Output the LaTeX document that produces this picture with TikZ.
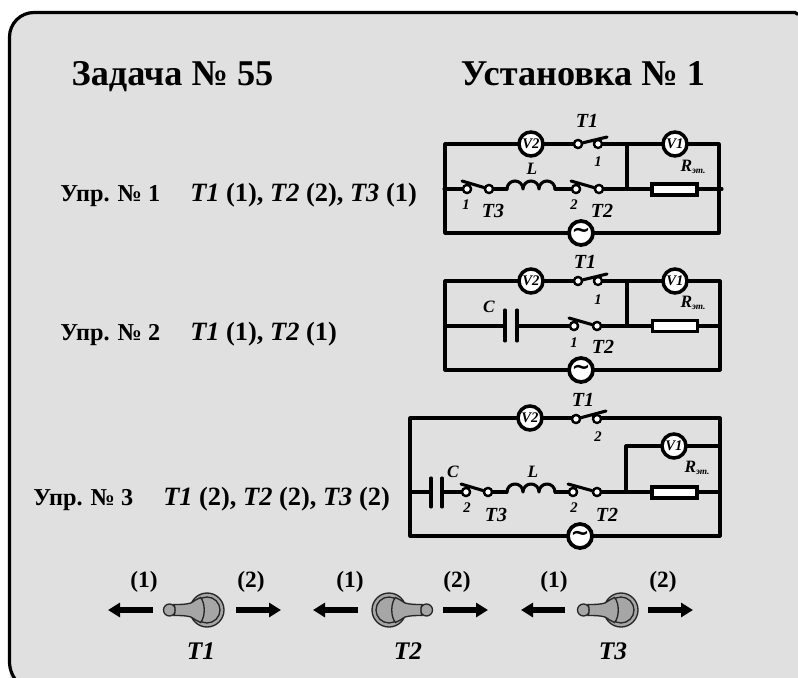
\documentclass[tikz,border=0pt]{standalone}
\usepackage{fontspec}
\setmainfont{Liberation Serif}
\newfontfamily\tildefont{DejaVu Sans}
\usetikzlibrary{arrows.meta}
\definecolor{panel}{HTML}{E0E0E0}
\definecolor{knob}{HTML}{A6A6A6}
\tikzset{
  x=0.75pt,y=-0.75pt,
  wire/.style={line width=2.3pt,line cap=round,line join=round},
  meter/.style={circle,draw,line width=2.6pt,fill=white,minimum size=18pt,inner sep=0pt,font=\bfseries\itshape\fontsize{11}{11}\selectfont},
  gen/.style={circle,draw,line width=2.8pt,fill=white,minimum size=18pt,inner sep=0pt,font=\tildefont\bfseries\fontsize{17}{17}\selectfont},
  sw/.style={circle,draw,line width=1.7pt,fill=white,minimum size=6pt,inner sep=0pt},
  res/.style={draw,line width=2.6pt,fill=white,minimum width=34pt,minimum height=8.5pt,inner sep=0pt},
  title/.style={font=\bfseries\fontsize{27.2}{30}\selectfont,anchor=base},
  exer/.style={font=\bfseries\fontsize{18.2}{20}\selectfont,anchor=base west,inner sep=0pt},
  exerb/.style={font=\bfseries\fontsize{19.8}{20}\selectfont,anchor=base west,inner sep=0pt},
  lab/.style={font=\bfseries\itshape\fontsize{15}{15}\selectfont},
  sm/.style={font=\bfseries\itshape\fontsize{11}{11}\selectfont},
  el/.style={font=\bfseries\itshape\fontsize{13}{13}\selectfont},
  big/.style={font=\bfseries\fontsize{17.5}{18}\selectfont},
  tname/.style={font=\bfseries\itshape\fontsize{19}{19}\selectfont},
  bigarrow/.style={line width=5pt,-{Triangle[length=9pt,width=10.5pt]}},
}
\newcommand{\rlab}{R\raisebox{-1.5pt}{\fontsize{7}{7}\selectfont эт.}}
\newcommand{\coilat}[2]{%
  \draw[wire] (#1,#2) arc[start angle=180,end angle=360,radius=8]
  arc[start angle=180,end angle=360,radius=8]
  arc[start angle=180,end angle=360,radius=8];}
\newcommand{\toggle}[3]{%
  \begin{scope}[shift={(#1,#2)},xscale=#3,line width=1pt]
    \filldraw[fill=knob,draw=black!85] (0,0) circle[radius=17];
    \filldraw[fill=knob,draw=black!85] (0,0) circle[radius=13];
    \filldraw[fill=knob,draw=black!85] (-37.5,0) circle[radius=6];
    \filldraw[fill=knob,draw=black!85] (-33,-5.5) .. controls (-27,-5.5) and (-21,-5.5) .. (-16,-7)
      .. controls (-13,-9) and (-10,-11) .. (-6.5,-12.5)
      .. controls (-1.5,-7) and (-1.5,7) .. (-6.5,12.5)
      .. controls (-10,11) and (-13,9) .. (-16,7)
      .. controls (-21,5.5) and (-27,5.5) .. (-33,5.5)
      .. controls (-31.5,2) and (-31.5,-2) .. (-33,-5.5) -- cycle;
  \end{scope}}
\begin{document}
\begin{tikzpicture}
\useasboundingbox (0,0) rectangle (798,677);
\fill[white] (0,0) rectangle (798,677);
\begin{scope}
\clip (0,0) rectangle (798,677);
\fill[panel] (9.5,690) -- (9.5,37) arc[start angle=180,end angle=270,radius=24.5] -- (830,12.5) -- (830,690) -- cycle;
\draw[line width=2.4pt] (40,692) arc[start angle=90,end angle=180,radius=30.5] -- (9.5,37) arc[start angle=180,end angle=270,radius=24.5] -- (795,12.5) -- (798,14.5);
\end{scope}
% titles
\node[title] (t1) at (172.5,86) {Задача № 55};
\node[title] (t2) at (583,86) {Установка № 1};
% exercises
\node[exer] (e1) at (60,201) {Упр. № 1};
\node[exerb] (e1b) at (190,201) {\textit{T1} (1), \textit{T2} (2), \textit{T3} (1)};
\node[exer] (e2) at (60,340) {Упр. № 2};
\node[exerb] (e2b) at (190,340) {\textit{T1} (1), \textit{T2} (1)};
\node[exer] (e3) at (33,505) {Упр. № 3};
\node[exerb] (e3b) at (163,505) {\textit{T1} (2), \textit{T2} (2), \textit{T3} (2)};

% ---------- Circuit 1
\draw[wire] (445,144) -- (445,233) -- (719,233) -- (719,144) -- cycle;
\draw[wire] (444,189) -- (507,189);
\draw[wire] (555,189) -- (722,189);
\draw[wire] (627,144) -- (627,189);
\node[meter] (v21) at (531,144) {V2};
\node[meter] (v11) at (675,144) {V1};
\node[gen] (g1) at (581,233) {∼};
\fill[panel] (583,141) rectangle (593,147);
\node[sw] (s1a) at (578,144) {}; \node[sw] (s1b) at (598,144) {};
\draw[wire] (s1a) -- (607,137);
\node[sw] at (578,144) {};
\fill[panel] (472,186) rectangle (484,192);
\node[sw] (s3a) at (467,189) {}; \node[sw] (s3b) at (489,189) {};
\draw[wire] (462,181) -- (s3b);
\node[sw] at (467,189) {}; \node[sw] at (489,189) {};
\fill[panel] (581,186) rectangle (594,192);
\node[sw] (s2a) at (576,189) {}; \node[sw] (s2b) at (599,189) {};
\draw[wire] (571,181) -- (s2b);
\node[sw] at (576,189) {}; \node[sw] at (599,189) {};
\coilat{507}{189}
\node[res] (r11) at (674.5,189.5) {};
\node[lab] (n1) at (587,121) {T1};
\node[sm] at (598,162) {1};
\node[el] at (532,169) {L};
\node[el] at (693,167) {\rlab};
\node[sm] at (466,205) {1};
\node[lab] at (493,211) {T3};
\node[sm] at (574,205) {2};
\node[lab] at (602,211) {T2};

% ---------- Circuit 2
\draw[wire] (445,281) -- (445,370) -- (720,370) -- (720,281) -- cycle;
\draw[wire] (445,326) -- (505,326);
\draw[wire] (517,326) -- (720,326);
\draw[wire] (627,281) -- (627,326);
\node[meter] (v22) at (531,281) {V2};
\node[meter] (v12) at (675,281) {V1};
\node[gen] (g2) at (581,370) {∼};
\draw[wire] (505,310) -- (505,341);
\draw[wire] (517,310) -- (517,341);
\fill[panel] (583,278) rectangle (593,284);
\node[sw] (s1c) at (578,281) {}; \node[sw] (s1d) at (598,281) {};
\draw[wire] (s1c) -- (607,274);
\node[sw] at (578,281) {};
\fill[panel] (579,323) rectangle (592,329);
\node[sw] (s2c) at (574,326) {}; \node[sw] (s2d) at (597,326) {};
\draw[wire] (569,318) -- (s2d);
\node[sw] at (574,326) {}; \node[sw] at (597,326) {};
\node[res] (r12) at (675,326) {};
\node[lab] at (585,262) {T1};
\node[sm] at (598,300) {1};
\node[el] at (489,307) {C};
\node[sm] at (574,343) {1};
\node[lab] at (603,347) {T2};
\node[el] at (693,303) {\rlab};

% ---------- Circuit 3
\draw[wire] (410,418) -- (410,536) -- (720,536) -- (720,418) -- cycle;
\draw[wire] (410,492) -- (431,492);
\draw[wire] (442,492) -- (507,492);
\draw[wire] (555,492) -- (720,492);
\draw[wire] (626,446) -- (720,446);
\draw[wire] (626,446) -- (626,492);
\fill[panel] (581,416) rectangle (592,422);
\node[meter] (v23) at (530,418) {V2};
\node[meter] (v13) at (674,446) {V1};
\node[gen] (g3) at (580,536) {∼};
\draw[wire] (431,478) -- (431,507);
\draw[wire] (442,478) -- (442,507);
\node[sw] (s1e) at (576,419) {}; \node[sw] (s1f) at (597,419) {};
\draw[wire] (s1e) -- (606,411);
\node[sw] at (576,419) {};
\fill[panel] (471,489) rectangle (483,495);
\node[sw] (s3c) at (466,492) {}; \node[sw] (s3d) at (488,492) {};
\draw[wire] (461,484) -- (s3d);
\node[sw] at (466,492) {}; \node[sw] at (488,492) {};
\fill[panel] (578,489) rectangle (592,495);
\node[sw] (s2e) at (573,492) {}; \node[sw] (s2f) at (597,492) {};
\draw[wire] (568,484) -- (s2f);
\node[sw] at (573,492) {}; \node[sw] at (597,492) {};
\coilat{507}{492}
\node[res] (r13) at (674.5,492.5) {};
\node[lab] at (583,400) {T1};
\node[sm] at (598,437) {2};
\node[el] at (453,472) {C};
\node[el] at (533,472) {L};
\node[el] at (697,468) {\rlab};
\node[sm] at (467,508) {2};
\node[lab] at (496,515) {T3};
\node[sm] at (574,508) {2};
\node[lab] at (607,515) {T2};

% ---------- Toggles
\toggle{207}{610}{1}
\toggle{389}{610}{-1}
\toggle{621}{610}{1}
\draw[bigarrow] (153,610) -- (108,610);
\draw[bigarrow] (236,610) -- (281,610);
\draw[bigarrow] (358,610) -- (313,610);
\draw[bigarrow] (443,610) -- (488,610);
\draw[bigarrow] (565,610) -- (521,610);
\draw[bigarrow] (648,610) -- (693,610);
\node[big] (p1) at (144,582) {(1)};
\node[big] (p2) at (251,582) {(2)};
\node[big] (p3) at (350,582) {(1)};
\node[big] (p4) at (457,582) {(2)};
\node[big] (p5) at (554,582) {(1)};
\node[big] (p6) at (663,582) {(2)};
\node[tname] at (201,651) {T1};
\node[tname] at (408,651) {T2};
\node[tname] at (613,651) {T3};
\end{tikzpicture}
\end{document}
